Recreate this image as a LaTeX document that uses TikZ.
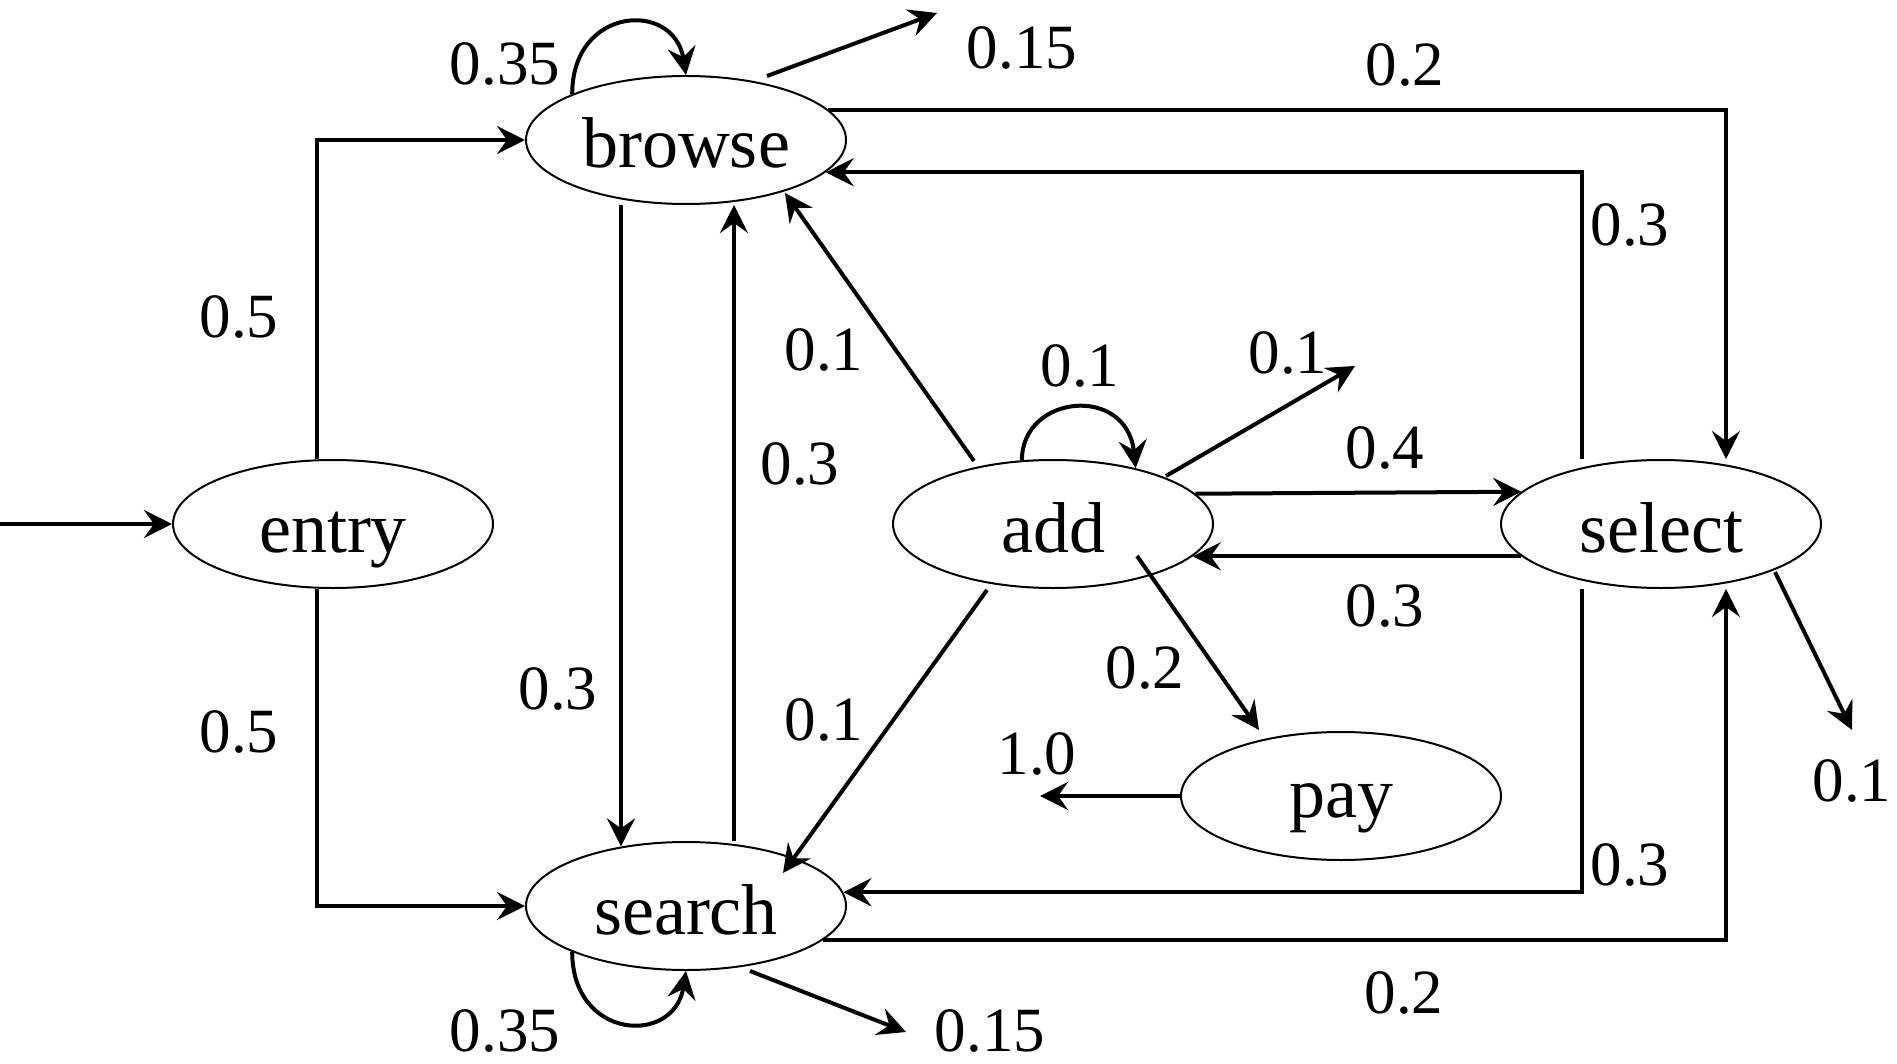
\documentclass[tikz,border=0pt]{standalone}
\usepackage{fontspec}
\setmainfont{Liberation Serif}
\usetikzlibrary{arrows.meta,calc,shapes.geometric}

\begin{document}
\begin{tikzpicture}[x=1pt,y=-1pt,
  state/.style={draw, line width=2pt, ellipse, minimum width=320pt,
    minimum height=128pt, inner sep=0pt,
    font=\fontsize{72}{80}\selectfont, text height=56pt, text depth=0pt},
  prob/.style={font=\fontsize{63}{70}\selectfont, inner sep=0pt},
  edge/.style={line width=4pt,
    -{Stealth[length=28pt,width=28pt,inset=10pt]}},
]
\useasboundingbox (0,0) rectangle (1897,1064);

% states
\node[state] (entry)  at (333,524)  {entry};
\node[state] (browse) at (686,140)  {browse};
\node[state] (search) at (686,906)  {search};
\node[state] (add)    at (1053,524) {add};
\node[state] (select) at (1661,524) {select};
\node[state, text height=42pt] (pay) at (1341,796) {pay};

% routing lanes and loose ends
\coordinate (src)   at (0,524);
\coordinate (laneE) at (317,0);
\coordinate (laneD) at (621,0);
\coordinate (laneU) at (734,0);
\coordinate (laneR) at (1582,0);
\coordinate (laneS) at (1726,0);
\coordinate (outB)  at (937,13);
\coordinate (outS)  at (906,1032);
\coordinate (outA)  at (1355,366);
\coordinate (outP)  at (1040,796);
\coordinate (outT)  at (1852,730);

% entry
\draw[edge] (src) -- (entry);
\draw[edge] (entry.north -| laneE) |- (browse);
\draw[edge] (entry.south -| laneE) |- (search);

% browse <-> search
\draw[edge] (browse.south -| laneD) -- (laneD |- search.137);
\draw[edge] (search.north -| laneU) -- (browse.south -| laneU);

% outer loops to and from select
\draw[edge] (browse.12.5) -| (select.north -| laneS);
\draw[edge] (select.north -| laneR) |- (browse.-13);
\draw[edge] (search.-14) -| (select.south -| laneS);
\draw[edge] (select.south -| laneR) |- (search.5);

% add <-> select
\draw[edge] (add.12.5) -- (select.167.5);
\draw[edge] (select.-167) -- (add.-13);

% self loops
\draw[edge] (browse.158.8) .. controls +(0,-88) and +(-12,-75) .. (browse.north);
\draw[edge] (search.-158.8) .. controls +(0,88) and +(-12,75) .. (search.south);
\draw[edge] (add.116.3) .. controls +(0,-66) and +(-9,-84) .. (add.34.3);

% exits
\draw[edge] ($(browse.center)+(81,-64)$) -- (outB);
\draw[edge] ($(search.center)+(64,65)$) -- (outS);
\draw[edge] ($(add.center)+(113,-48)$) -- (outA);
\draw[edge] (pay) -- (outP);
\draw[edge] ($(select.center)+(114,48)$) -- (outT);

% from add
\draw[edge] ($(add.center)+(-79,-63)$) -- ($(browse.center)+(99,53)$);
\draw[edge] ($(add.center)+(-66,66)$) -- ($(search.center)+(97,-33)$);
\draw[edge] ($(add.center)+(84,32)$) -- ($(pay.center)+(-82,-66)$);

% transition probabilities
\node[prob] (pBB) at (505,64)   {0.35};
\node[prob] (pBX) at (1022,48)  {0.15};
\node[prob] (pBT) at (1405,65)  {0.2};
\node[prob] (pEB) at (239,317)  {0.5};
\node[prob] (pTB) at (1630,225) {0.3};
\node[prob] (pAB) at (824,350)  {0.1};
\node[prob] (pAA) at (1080,366) {0.1};
\node[prob] (pAX) at (1288,353) {0.1};
\node[prob] (pSB) at (800,464)  {0.3};
\node[prob] (pAT) at (1385,448) {0.4};
\node[prob] (pTA) at (1385,606) {0.3};
\node[prob] (pBS) at (558,689)  {0.3};
\node[prob] (pES) at (239,732)  {0.5};
\node[prob] (pAS) at (824,720)  {0.1};
\node[prob] (pAP) at (1145,668) {0.2};
\node[prob] (pPX) at (1037,754) {1.0};
\node[prob] (pTS) at (1630,865) {0.3};
\node[prob] (pST) at (1404,993) {0.2};
\node[prob] (pSX) at (990,1031) {0.15};
\node[prob] (pSS) at (505,1031) {0.35};
\node[prob] (pTX) at (1852,781) {0.1};
\end{tikzpicture}
\end{document}
